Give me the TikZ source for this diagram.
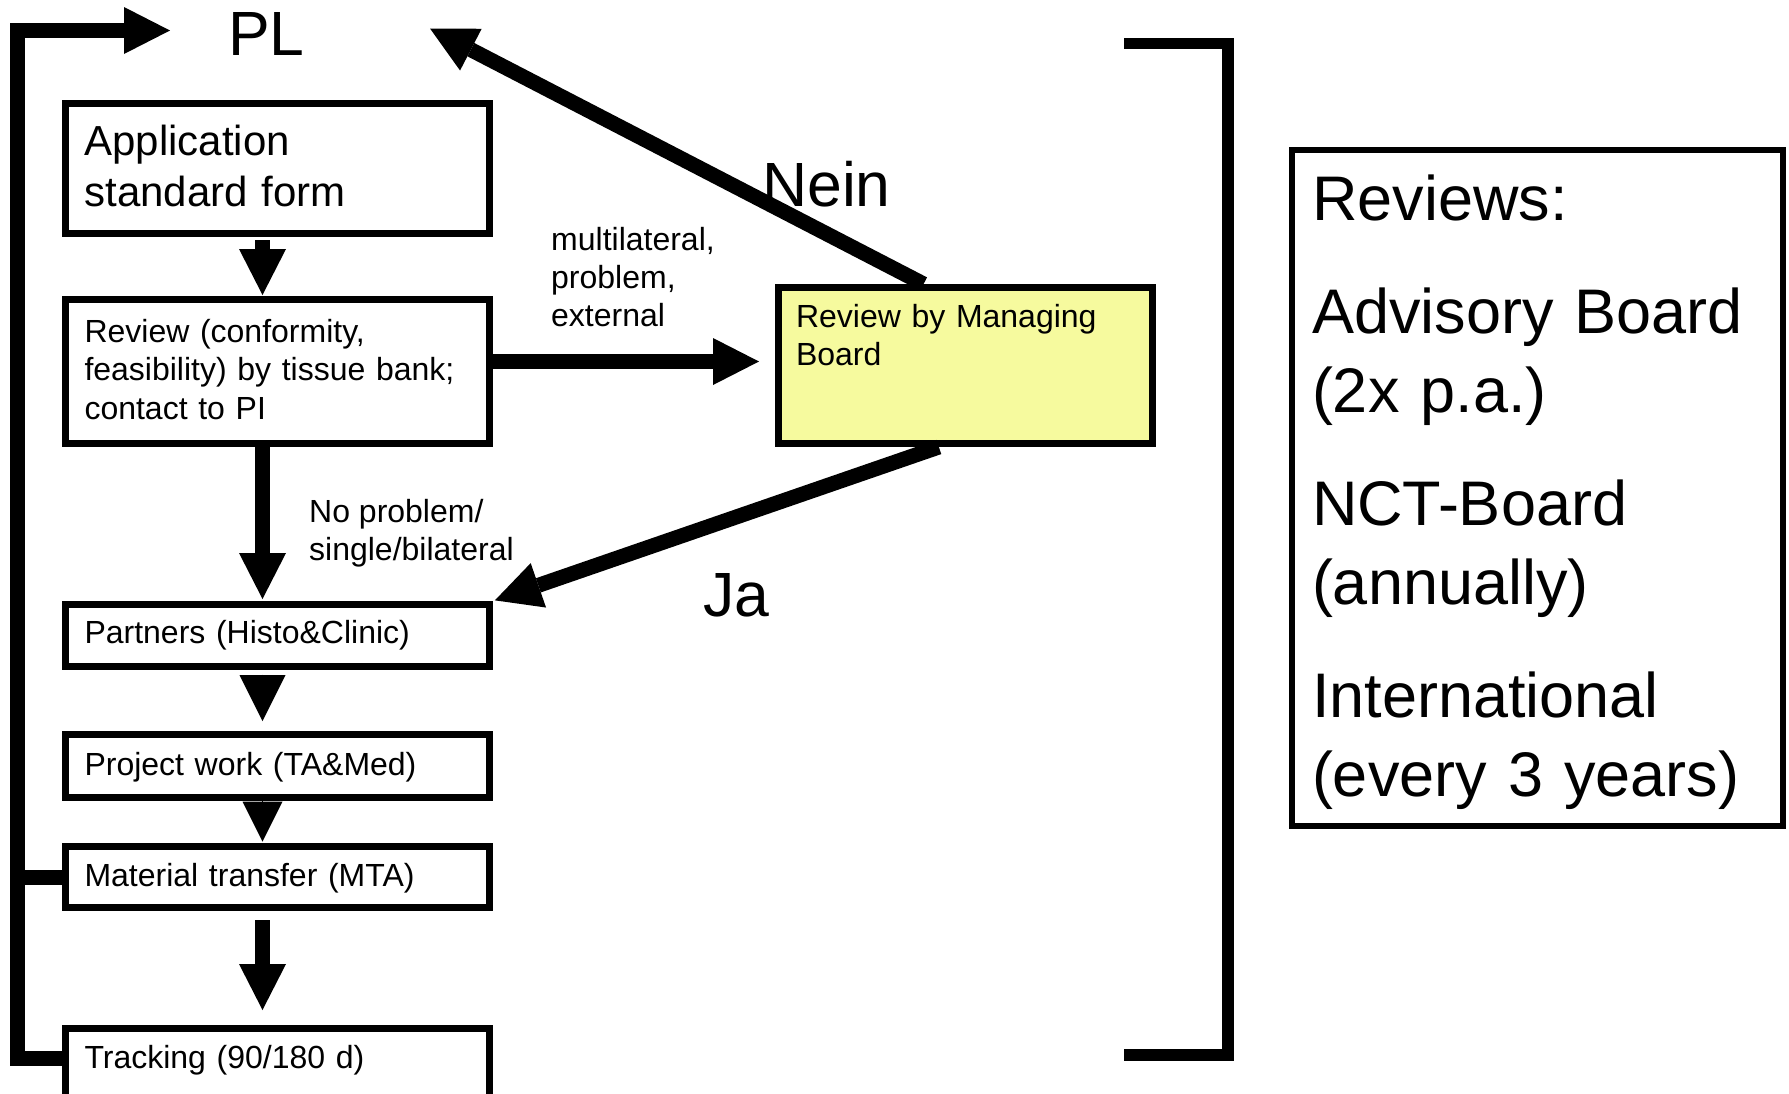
\documentclass[tikz,border=0pt]{standalone}
\usepackage{fontspec}
\setmainfont{Liberation Sans}
\usepackage{tikz}
\usetikzlibrary{positioning}
\usetikzlibrary{arrows.meta}
\usetikzlibrary{calc}
\definecolor{ColorY}{RGB}{246,250,158}

\begin{document}
\begin{tikzpicture}[x=1pt, y=-1pt,
	ob/.style={rectangle, draw, line width=7pt, inner xsep=19pt, inner ysep=0pt, text width=386pt, align=left, font=\fontsize{32}{38.5}\selectfont},
	board/.style={rectangle, draw, fill=ColorY, line width=7pt, inner xsep=17.5pt, inner ysep=0pt, text width=339pt, align=left, font=\fontsize{32}{38}\selectfont},
	rv/.style={rectangle, draw, line width=6pt, inner xsep=20pt, inner ysep=0pt, text width=451pt, align=left, font=\fontsize{63}{79}\selectfont},
	post/.style={draw, line width=15pt, -{Triangle[length=46pt, width=47pt, line width=0pt]}},
	tri/.style={draw, line width=1pt, -{Triangle[length=#1, width=#1, line width=0pt]}},
	lab/.style={inner sep=0pt, anchor=base west, font=\fontsize{32}{38}\selectfont, align=left},
	big/.style={inner sep=0pt, anchor=base west, font=\fontsize{62.5}{75}\selectfont},
	bracket/.style={draw, line width=11.5pt}]

	\useasboundingbox (0,0) rectangle (1789,1093);

	% Flow
	\node[ob, anchor=north west, text height=51.5pt, text depth=78.5pt, font=\fontsize{42}{51}\selectfont] (App) at (62,100) {Application\\standard form};
	\node[ob, below=59pt of App, text height=42.5pt, text depth=101.5pt] (Chk) {Review (conformity,\\feasibility) by tissue bank;\\contact to PI};
	\node[ob, below=154pt of Chk, text height=39pt, text depth=23pt] (Par) {Partners (Histo\&Clinic)};
	\node[ob, below=61pt of Par, text height=40.5pt, text depth=22.5pt] (Prj) {Project work (TA\&Med)};
	\node[ob, below=42pt of Prj, text height=40pt, text depth=21pt] (Mat) {Material transfer (MTA)};
	\node[ob, below=114pt of Mat, text height=39.5pt, text depth=30pt] (Trk) {Tracking (90/180 d)};
	% Boards
	\node[board, anchor=north west, text height=40pt, text depth=116pt] (MB) at (775,284) {Review by Managing\\Board};
	\node[rv, anchor=north west, text height=70pt, text depth=606pt] (RV) at (1289,147) {Reviews:\\[34pt]Advisory Board\\(2x p.a.)\\[34pt]NCT-Board\\(annually)\\[34pt]International\\(every 3 years)};
	% Labels
	\node[big] (PL) at (228,55) {PL};
	\node[big] (Nein) at (762,206) {Nein};
	\node[big] (Ja) at (703,616) {Ja};
	\node[lab] (Multi) at (551,326) {multilateral,\\problem,\\external};
	\node[lab] (NoProb) at (309,560) {No problem/\\single/bilateral};

	\coordinate (PLin) at (170,30.5);
	\coordinate (NeinTip) at (430,28.5);
	\coordinate (LoopTop) at (17,30.5);
	\coordinate (LoopBot) at ($(Trk.west)+(0,-5)$);
	\coordinate (BrT) at (1124,43.5);
	\coordinate (BrB) at (1124,1055);

	\path[post, shorten <=3pt, shorten >=1pt] ([xshift=-15pt]App.south) -- ([xshift=-15pt]Chk.north);
	\path[post, shorten >=2pt] ([xshift=-15pt]Chk.south) -- ([xshift=-15pt]Par.north);
	\path[tri=46pt, shorten <=4.5pt, shorten >=10pt] ([xshift=-15pt]Par.south) -- ([xshift=-15pt]Prj.north);
	\path[tri=40pt, shorten >=1.5pt] ([xshift=-15pt]Prj.south) -- ([xshift=-15pt]Mat.north);
	\path[post, shorten <=9pt, shorten >=15pt] ([xshift=-15pt]Mat.south) -- ([xshift=-15pt]Trk.north);

	\path[post, shorten >=16pt] ([yshift=4pt]MB.west -| Chk.east) -- ([yshift=4pt]MB.west);
	\path[post] ($(MB.north west)!0.39!(MB.north east)$) -- (NeinTip);
	\path[post, shorten >=2pt] ($(MB.south west)!0.43!(MB.south east)$) -- (Par.north east);

	\path[post] (LoopBot) -| (LoopTop) -- (PLin);
	\path[draw, line width=15pt] (Mat.west) -- (Mat.west -| LoopTop);

	\path[bracket] (BrT) -| (1228,1055) -- (BrB);
\end{tikzpicture}
\end{document}
